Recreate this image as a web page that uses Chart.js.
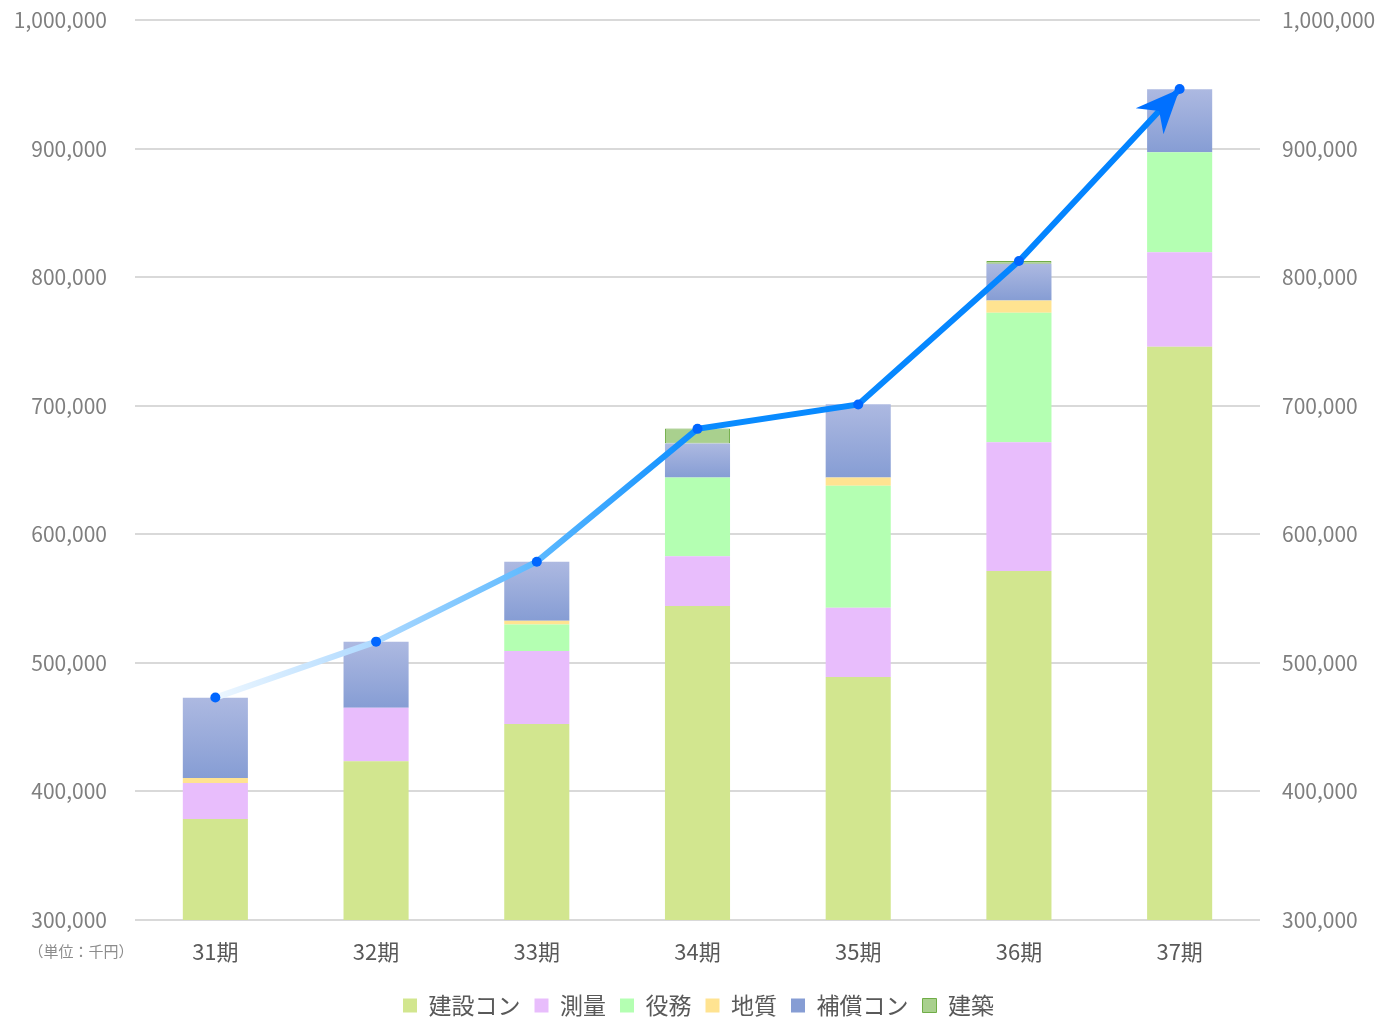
<!DOCTYPE html>
<html lang="ja">
<head>
<meta charset="utf-8">
<script src="https://cdn.jsdelivr.net/npm/chart.js@4"></script>
<style>
  html, body { margin: 0; padding: 0; background: #ffffff; }
  #wrap { width: 1397px; height: 1019px; position: relative; }
</style>
</head>
<body>
<div id="wrap"><canvas id="salesChart"></canvas></div>
<script>
// data (千円)
const periods = ['31期', '32期', '33期', '34期', '35期', '36期', '37期'];
const kensetsu = [378600, 423500, 452400, 544200, 489000, 571500, 745900];
const sokuryo  = [28000, 41500, 56800, 38700, 53900, 100100, 73400];
const ekimu    = [null, null, 20700, 61300, 94800, 100700, 77900];
const chishitsu = [3900, null, 2900, null, 6500, 9600, null];
const hosho    = [62400, 51400, 45900, 26500, 56900, 28600, 49000];
const kenchiku = [null, null, null, 11500, null, 2000, null];
const totals   = [473000, 516500, 578700, 682000, 701000, 812500, 946300];
const yTicks = { min: 300000, max: 1000000, step: 100000 };

const FONT = '"Noto Sans CJK JP", "Noto Sans", sans-serif';
const below = [kensetsu, sokuryo, ekimu, chishitsu];

// vertical gradient on each 補償コン segment, placed with the y scale
function hoshoGradient(context) {
    const chart = context.chart;
    const y = chart.scales && chart.scales.y;
    const i = context.dataIndex;
    if (!y || i === undefined || !chart.chartArea) return '#98a9da';
    let base = 0;
    below.forEach(arr => { base += arr[i] || 0; });
    const top = y.getPixelForValue(base + hosho[i]);
    const bottom = y.getPixelForValue(base);
    if (!isFinite(top) || !isFinite(bottom) || bottom - top < 1) return '#98a9da';
    const g = chart.ctx.createLinearGradient(0, top, 0, bottom);
    g.addColorStop(0, '#adb9e1');
    g.addColorStop(1, '#869dd4');
    return g;
}

function lineGradient(context) {
    const chart = context.chart;
    const area = chart.chartArea;
    if (!area) return '#0088ff';
    const g = chart.ctx.createLinearGradient(area.left, 0, area.right, 0);
    g.addColorStop(0.06, '#f2f9ff');
    g.addColorStop(0.2, '#b4dcff');
    g.addColorStop(0.36, '#5ab8ff');
    g.addColorStop(0.5, '#0a8cff');
    g.addColorStop(1, '#0080ff');
    return g;
}

// y axes: no extra room above/below for the end labels
function fitY(width) {
    return function(scale) {
        scale.width = width;
        scale.paddingTop = 0;
        scale.paddingBottom = 0;
    };
}

// legend sits a bit lower than Chart.js would put it
const legendNudge = {
    id: 'legendNudge',
    beforeLayout(chart) {
        const lg = chart.legend;
        if (lg && !lg._nudged) {
            const fit = lg.fit;
            lg.fit = function() {
                fit.call(this);
                this.height -= 8;
            };
            lg._nudged = true;
        }
    }
};

// arrow head on the last point of the line + unit note
const extras = {
    id: 'extras',
    afterDatasetsDraw(chart) {
        const ctx = chart.ctx;
        const meta = chart.getDatasetMeta(6);
        const pts = meta.data;
        const a = pts[pts.length - 2];
        const b = pts[pts.length - 1];
        const ang = Math.atan2(b.y - a.y, b.x - a.x);
        const len = 44, half = 19, notch = 30;
        ctx.save();
        ctx.translate(b.x, b.y);
        ctx.rotate(ang);
        ctx.beginPath();
        ctx.moveTo(0, 0);
        ctx.lineTo(-len, -half);
        ctx.lineTo(-notch, 0);
        ctx.lineTo(-len, half);
        ctx.closePath();
        ctx.fillStyle = '#0070ff';
        ctx.fill();
        ctx.restore();

        ctx.save();
        ctx.font = '15px ' + FONT;
        ctx.fillStyle = '#8c8c8c';
        ctx.textAlign = 'center';
        ctx.textBaseline = 'middle';
        ctx.fillText('（単位：千円）', 81, chart.chartArea.bottom + 31);
        ctx.restore();
    }
};

const ctx = document.getElementById('salesChart').getContext('2d');
const salesChart = new Chart(ctx, {
    type: 'bar',
    data: {
        labels: periods,
        datasets: [
            { label: '建設コン', data: kensetsu, backgroundColor: '#d2e68f', order: 1 },
            { label: '測量', data: sokuryo, backgroundColor: '#e8bdfc', order: 1 },
            { label: '役務', data: ekimu, backgroundColor: '#b4ffb2', order: 1 },
            { label: '地質', data: chishitsu, backgroundColor: '#ffe391', order: 1 },
            { label: '補償コン', data: hosho, backgroundColor: hoshoGradient, order: 1 },
            { label: '建築', data: kenchiku, backgroundColor: '#a9d08e', borderColor: '#70ad47', borderWidth: 1, borderSkipped: false, order: 1 },
            {
                type: 'line',
                label: '合計',
                data: totals,
                yAxisID: 'y2',
                borderColor: lineGradient,
                borderWidth: 6,
                pointRadius: 5,
                pointBackgroundColor: '#0066ff',
                pointBorderWidth: 0,
                tension: 0,
                order: 0
            }
        ]
    },
    options: {
        responsive: true,
        maintainAspectRatio: false,
        animation: false,
        layout: { padding: { top: 20, bottom: 0 } },
        datasets: {
            bar: { barPercentage: 0.405, categoryPercentage: 1, borderWidth: 0 }
        },
        scales: {
            x: {
                stacked: true,
                grid: { display: false },
                border: { display: false },
                ticks: { color: '#595959', font: { family: FONT, size: 22 }, padding: 10 },
                afterFit(scale) { scale.height = 60; }
            },
            y: {
                stacked: true,
                position: 'left',
                min: yTicks.min,
                max: yTicks.max,
                ticks: {
                    stepSize: yTicks.step,
                    color: '#7f7f7f',
                    font: { family: FONT, size: 21 },
                    padding: 28,
                    callback: v => v.toLocaleString('en-US')
                },
                grid: { color: '#d9d9d9', lineWidth: 2, drawTicks: false },
                border: { display: false },
                afterFit: fitY(135)
            },
            y2: {
                position: 'right',
                min: yTicks.min,
                max: yTicks.max,
                ticks: {
                    stepSize: yTicks.step,
                    color: '#7f7f7f',
                    font: { family: FONT, size: 21 },
                    padding: 22,
                    callback: v => v.toLocaleString('en-US')
                },
                grid: { display: false, drawTicks: false },
                border: { display: false },
                afterFit: fitY(137)
            }
        },
        plugins: {
            legend: {
                position: 'bottom',
                labels: {
                    filter: item => item.datasetIndex < 6,
                    boxWidth: 14,
                    boxHeight: 14,
                    padding: 14,
                    color: '#595959',
                    font: { family: FONT, size: 23 }
                }
            },
            tooltip: { enabled: false }
        }
    },
    plugins: [legendNudge, extras]
});
</script>
</body>
</html>
